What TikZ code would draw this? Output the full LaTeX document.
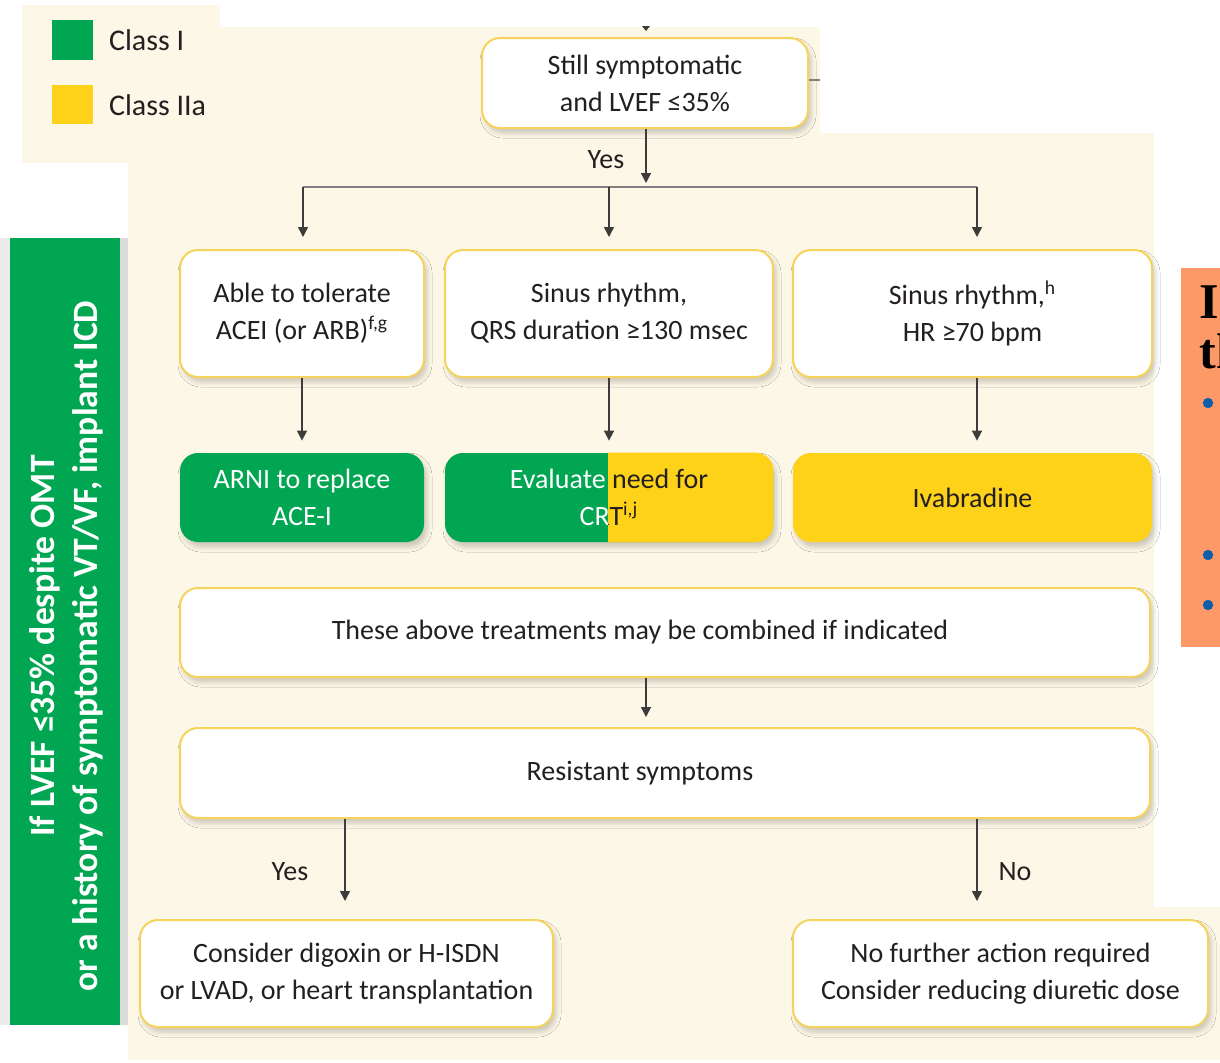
\documentclass[tikz,border=0pt]{standalone}
\usepackage{fontspec}
\setmainfont{Carlito}
\newfontfamily\slidefont{Liberation Serif}
\usetikzlibrary{arrows.meta,shadows.blur}

\definecolor{panelbeige}{RGB}{253,247,231}
\definecolor{classgreen}{RGB}{0,166,81}
\definecolor{classyellow}{RGB}{254,210,24}
\definecolor{boxborder}{RGB}{246,211,90}
\definecolor{inkdark}{RGB}{35,31,32}
\definecolor{arrowgray}{RGB}{60,60,60}
\definecolor{slideorange}{RGB}{253,153,102}
\definecolor{bulletblue}{RGB}{16,94,168}

\begin{document}
\begin{tikzpicture}[x=0.5pt,y=-0.5pt,
 every node/.style={font=\fontsize{14}{18.5}\selectfont, text=inkdark},
 softshadow/.style={blur shadow={shadow xshift=1.5pt, shadow yshift=-2.5pt,
   shadow blur radius=2.5pt, shadow opacity=20}},
 question/.style={draw=boxborder, line width=1pt, fill=white,
   rounded corners=9pt, align=center, inner sep=0pt, softshadow},
 treat/.style={rounded corners=9pt, align=center, inner sep=0pt,
   minimum height=44.5pt, softshadow},
 flow/.style={draw=arrowgray, line width=0.75pt,
   -{Triangle[length=5pt,width=5pt]}},
 branch/.style={draw=gray, line width=1pt}
]
 \useasboundingbox (0,0) rectangle (1220,1062);
 \fill[white] (0,0) rectangle (1220,1062);

 % panels
 \fill[panelbeige] (128,27) rectangle (820,133);
 \fill[panelbeige] (128,133) rectangle (1154,907);
 \fill[panelbeige] (128,907) rectangle (1220,1060);
 \fill[panelbeige] (22,5) rectangle (220,163);

 % legend
 \fill[classgreen] (52,20) rectangle (93,60);
 \fill[classyellow] (52,85) rectangle (93,124);
 \node[anchor=west, font=\fontsize{15}{18}\selectfont] (lgI) at (102,40) {Class I};
 \node[anchor=west, font=\fontsize{15}{18}\selectfont] (lgIIa) at (102,105) {Class IIa};

 % ICD bar
 \fill[black!8] (0,238) rectangle (10,1025);
 \fill[black!14] (120,238) rectangle (128,1025);
 \fill[classgreen] (10,238) rectangle (120,1025);
 \node[rotate=90, text=white, align=center,
   font=\bfseries\fontsize{17.8}{21.5}\selectfont] (icdnote) at (66,646)
   {If LVEF ≤35\% despite OMT\\or a history of symptomatic VT/VF, implant ICD};

 % top question
 \node[question, minimum width=163pt, minimum height=45pt] (still) at (645,83)
   {Still symptomatic\\and LVEF ≤35\%};
 \fill[arrowgray] (642,26) -- (650,26) -- (646,31) -- cycle;
 \coordinate (offright) at (820,80);
 \draw[branch] (still.east |- offright) -- (offright);

 \coordinate (split) at (646,187);
 \coordinate (splitL) at (303,187);
 \coordinate (splitR) at (977,187);
 \draw[flow, shorten >=2pt] (still.south -| split) -- (split);
 \node (yesTop) at (606,160) {Yes};
 \draw[branch] (splitL) -- (splitR);

 % conditions
 \node[question, minimum width=122pt, minimum height=63.5pt] (tolerate) at (302,313.5)
   {Able to tolerate\\ACEI (or ARB)\textsuperscript{f,g}};
 \node[question, minimum width=164pt, minimum height=63.5pt] (qrs) at (609,313.5)
   {Sinus rhythm,\\QRS duration ≥130 msec};
 \node[question, minimum width=179.5pt, minimum height=63.5pt] (heartrate) at (972.5,313.5)
   {Sinus rhythm,\textsuperscript{h}\\HR ≥70 bpm};

 \draw[flow, shorten >=6pt] (splitL) -- (splitL |- tolerate.north);
 \draw[flow, shorten >=6pt] (split -| qrs) -- (qrs.north);
 \draw[flow, shorten >=6pt] (splitR) -- (splitR |- heartrate.north);

 % treatments
 \node[treat, fill=classgreen, minimum width=122pt, text=white] (arni) at (302,497.5)
   {ARNI to replace\\ACE-I};
 \node[treat, fill=classgreen, minimum width=164pt] (crt) at (609,497.5) {};
 \begin{scope}
  \clip[rounded corners=9pt] (crt.south west) rectangle (crt.north east);
  \fill[classyellow] (608,440) rectangle (800,560);
 \end{scope}
 \begin{scope}
  \clip (440,440) rectangle (608,560);
  \node[text=white, align=center] (crtL) at (crt) {Evaluate need for\\CRT\textsuperscript{i,j}};
 \end{scope}
 \begin{scope}
  \clip (608,440) rectangle (800,560);
  \node[align=center] (crtR) at (crt) {Evaluate need for\\CRT\textsuperscript{i,j}};
 \end{scope}
 \node[treat, fill=classyellow, minimum width=179.5pt] (ivab) at (972.5,497.5) {Ivabradine};

 \draw[flow, shorten >=6pt] (tolerate.south) -- (arni.north);
 \draw[flow, shorten >=6pt] (qrs.south) -- (crt.north);
 \draw[flow, shorten >=6pt] (heartrate.south -| splitR) -- (ivab.north -| splitR);

 % combined / resistant
 \node[question, minimum width=485pt, minimum height=44.5pt,
   label={[xshift=-12.5pt]center:These above treatments may be combined if indicated}]
   (combined) at (665,632.5) {};
 \node[question, minimum width=485pt, minimum height=45pt,
   label={[xshift=-12.5pt]center:Resistant symptoms}]
   (resistant) at (665,773) {};
 \draw[flow, shorten >=5pt] (combined.south -| split) -- (resistant.north -| split);

 % outcomes
 \node[question, minimum width=206.5pt, minimum height=53.5pt] (digoxin) at (346.5,973.5)
   {Consider digoxin or H-ISDN\\or LVAD, or heart transplantation};
 \node[question, minimum width=207.5pt, minimum height=53.5pt] (nofurther) at (1000.5,973.5)
   {No further action required\\Consider reducing diuretic dose};
 \coordinate (yesX) at (345,820);
 \coordinate (noX) at (977,820);
 \draw[flow, shorten >=9pt] (resistant.south -| yesX) -- (digoxin.north -| yesX);
 \draw[flow, shorten >=9pt] (resistant.south -| noX) -- (nofurther.north -| noX);
 \node (yesLow) at (290,872) {Yes};
 \node (noLow) at (1015,872) {No};

 % slide fragment on the right
 \fill[slideorange] (1181,268) rectangle (1220,647);
 \begin{scope}
  \clip (1181,268) rectangle (1220,647);
  \node[anchor=base west, inner sep=0pt, text=black,
    font=\slidefont\bfseries\fontsize{25}{25}\selectfont] (slideA) at (1199,318) {I};
  \node[anchor=base west, inner sep=0pt, text=black,
    font=\slidefont\bfseries\fontsize{25}{25}\selectfont] (slideB) at (1199,368) {th};
  \foreach \by in {403,555,605}
   \fill[bulletblue] (1208,\by) circle[radius=2.6pt];
 \end{scope}
\end{tikzpicture}
\end{document}
